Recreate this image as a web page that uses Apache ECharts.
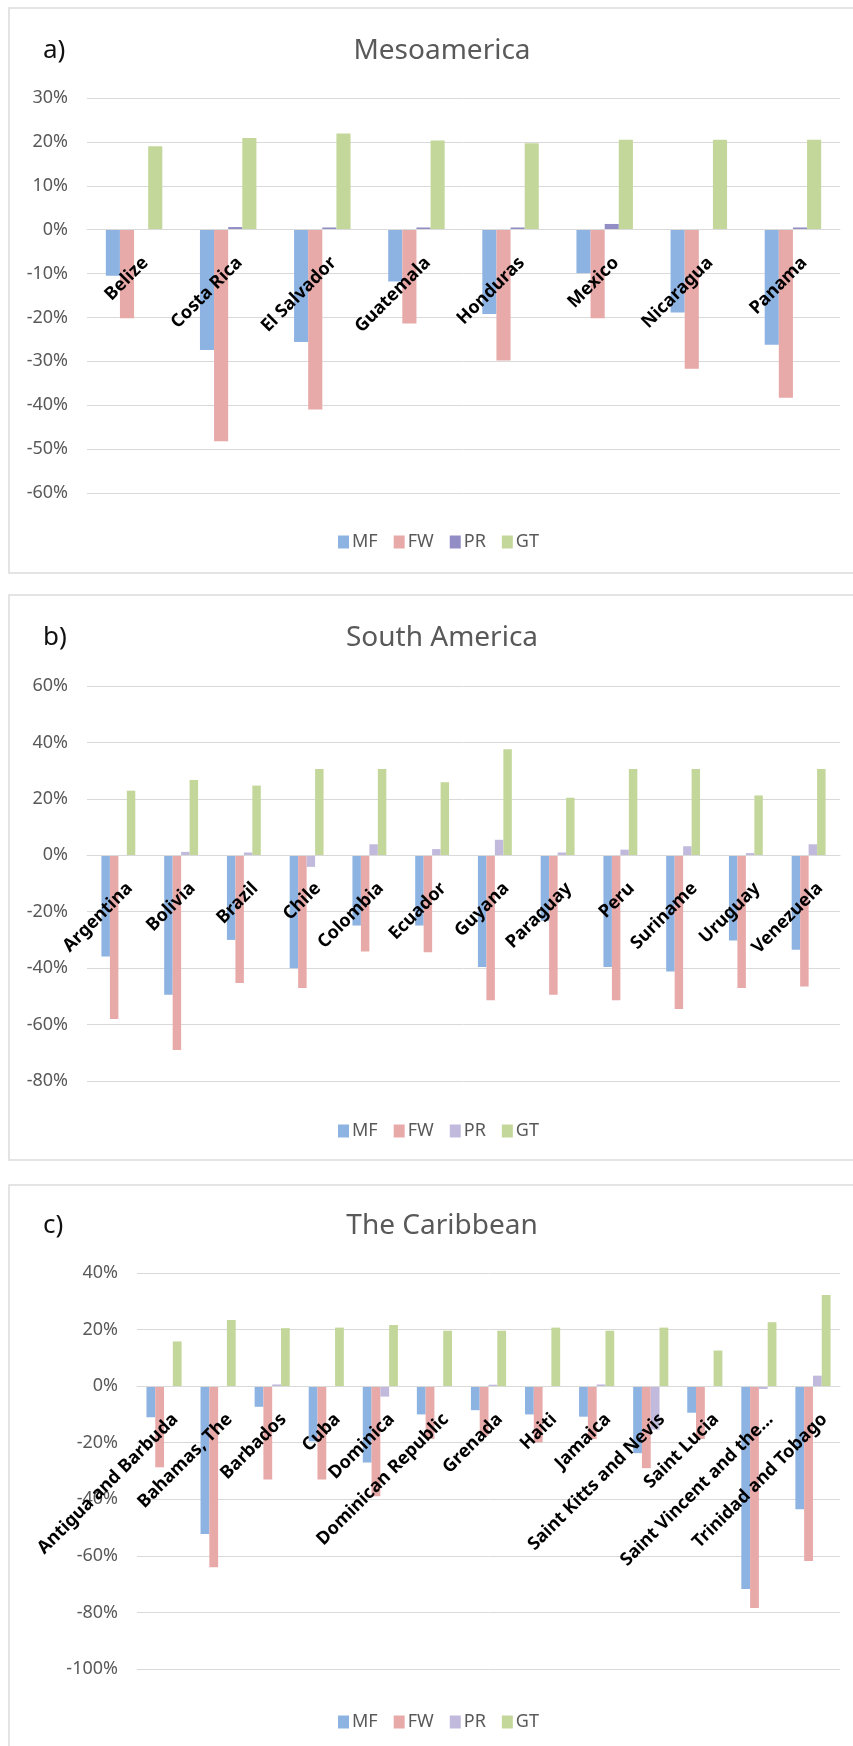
<!DOCTYPE html>
<html>
<head>
<meta charset="utf-8">
<script src="https://cdn.jsdelivr.net/npm/echarts@6/dist/echarts.min.js"></script>
<style>
  html, body { margin: 0; padding: 0; background: #fff; overflow: hidden; }
  #chart { width: 853px; height: 1746px; }
</style>
</head>
<body>
<div id="chart"></div>
<script>
// a) Mesoamerica
const mesoCats = ['Belize', 'Costa Rica', 'El Salvador', 'Guatemala', 'Honduras', 'Mexico', 'Nicaragua', 'Panama'];
const mesoMF = [-10.5, -27.4, -25.6, -11.8, -19.2, -9.9, -18.9, -26.2];
const mesoFW = [-20.2, -48.2, -41.0, -21.4, -29.8, -20.2, -31.7, -38.3];
const mesoPR = [0, 0.6, 0.5, 0.5, 0.5, 1.3, 0, 0.5];
const mesoGT = [19.0, 20.9, 21.9, 20.3, 19.7, 20.5, 20.5, 20.5];

// b) South America
const southCats = ['Argentina', 'Bolivia', 'Brazil', 'Chile', 'Colombia', 'Ecuador', 'Guyana', 'Paraguay', 'Peru', 'Suriname', 'Uruguay', 'Venezuela'];
const southMF = [-35.9, -49.4, -30.0, -40.0, -24.9, -24.9, -39.6, -23.2, -39.6, -41.2, -30.2, -33.5];
const southFW = [-58.0, -69.0, -45.3, -47.0, -34.1, -34.4, -51.4, -49.4, -51.4, -54.5, -47.0, -46.5];
const southPR = [0, 1.2, 1.0, -4.1, 3.9, 2.2, 5.5, 1.0, 2.0, 3.2, 0.8, 3.9];
const southGT = [22.9, 26.7, 24.7, 30.6, 30.6, 25.9, 37.6, 20.4, 30.6, 30.6, 21.2, 30.6];

// c) The Caribbean
const caribCats = ['Antigua and Barbuda', 'Bahamas, The', 'Barbados', 'Cuba', 'Dominica', 'Dominican Republic', 'Grenada', 'Haiti', 'Jamaica', 'Saint Kitts and Nevis', 'Saint Lucia', 'Saint Vincent and the...', 'Trinidad and Tobago'];
const caribMF = [-11.0, -52.3, -7.3, -19.5, -27.0, -10.0, -8.5, -10.0, -10.8, -23.7, -9.4, -71.7, -43.5];
const caribFW = [-28.7, -64.0, -33.0, -33.0, -38.9, -18.7, -17.5, -19.9, -18.7, -29.0, -18.7, -78.4, -61.8];
const caribPR = [0, 0, 0.6, 0, -3.7, 0, 0.5, 0, 0.6, -15.4, 0, -1.0, 3.7];
const caribGT = [15.8, 23.4, 20.5, 20.7, 21.6, 19.6, 19.6, 20.7, 19.6, 20.7, 12.6, 22.6, 32.2];

const seriesNames = ['MF', 'FW', 'PR', 'GT'];

const panels = [
  { tag: 'a)', name: 'Mesoamerica', cats: mesoCats, data: [mesoMF, mesoFW, mesoPR, mesoGT],
    min: -60, max: 30, interval: 10, top: 98, height: 395, left: 87, gap: '40%',
    titleY: 48, legendY: 538, box: [9, 8, 565], pr: '#938dc6' },
  { tag: 'b)', name: 'South America', cats: southCats, data: [southMF, southFW, southPR, southGT],
    min: -80, max: 60, interval: 20, top: 686, height: 395, left: 87, gap: '46%',
    titleY: 635, legendY: 1127, box: [9, 595, 565], pr: '#c2badc' },
  { tag: 'c)', name: 'The Caribbean', cats: caribCats, data: [caribMF, caribFW, caribPR, caribGT],
    min: -100, max: 40, interval: 20, top: 1273, height: 396, left: 137, gap: '35%',
    titleY: 1223, legendY: 1718, box: [9, 1185, 600], pr: '#c2badc' }
];

const grey = '#595959';
const gridColor = '#d9d9d9';

const title = [];
const legend = [];
const grid = [];
const xAxis = [];
const yAxis = [];
const series = [];
const graphic = [];

panels.forEach((p, i) => {
  const colors = ['#8db3e2', '#e8a9a9', p.pr, '#c4d79b'];
  // the category axis sits on the 0% line (Excel style)
  const zeroOffset = -p.height * (0 - p.min) / (p.max - p.min);
  graphic.push({
    type: 'rect', silent: true, z: -1,
    shape: { x: p.box[0], y: p.box[1], width: 900, height: p.box[2] },
    style: { fill: 'none', stroke: '#dcdcdc', lineWidth: 1.5 }
  });
  title.push({
    text: p.tag, left: 38, top: p.titleY - 15,
    textStyle: { fontSize: 26, fontWeight: 'normal', color: '#111' }
  });
  title.push({
    text: p.name, left: 437, textAlign: 'center', top: p.titleY - 16,
    textStyle: { fontSize: 28, fontWeight: 'normal', color: grey }
  });
  legend.push({
    left: 333, top: p.legendY - 10,
    icon: 'rect', itemWidth: 11, itemHeight: 13, itemGap: 16,
    selectedMode: false,
    textStyle: { fontSize: 18, color: grey, padding: [0, 0, 0, -2] },
    data: seriesNames.map((n, k) => ({ name: n, itemStyle: { color: colors[k] } }))
  });
  grid.push({ left: p.left, right: 13, top: p.top, height: p.height });
  xAxis.push({
    type: 'category', gridIndex: i, data: p.cats,
    position: 'bottom', offset: zeroOffset, z: 5,
    axisLine: { onZero: false, lineStyle: { color: gridColor } },
    axisTick: { show: false },
    axisLabel: {
      interval: 0, rotate: 45, margin: 19,
      align: 'right', verticalAlign: 'top', padding: [7, 0, 0, 0],
      color: '#000', fontWeight: 'bold', fontSize: 18
    }
  });
  yAxis.push({
    type: 'value', gridIndex: i, min: p.min, max: p.max, interval: p.interval,
    axisLine: { show: false }, axisTick: { show: false },
    axisLabel: { formatter: '{value}%', color: grey, fontSize: 18, margin: 19 },
    splitLine: { lineStyle: { color: gridColor, width: 1 } }
  });
  seriesNames.forEach((n, k) => {
    series.push({
      name: n, type: 'bar', xAxisIndex: i, yAxisIndex: i,
      data: p.data[k], barGap: '0%', barCategoryGap: p.gap,
      itemStyle: { color: colors[k] }, silent: true
    });
  });
});

const chart = echarts.init(document.getElementById('chart'));
chart.setOption({
  animation: false,
  textStyle: { fontFamily: 'Noto Sans' },
  title, legend, grid, xAxis, yAxis, series, graphic
});
</script>
</body>
</html>
